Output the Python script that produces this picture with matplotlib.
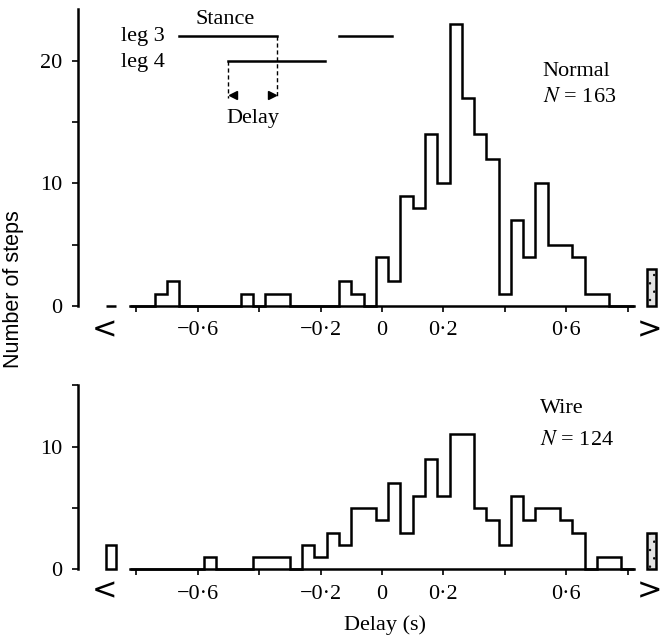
import matplotlib.pyplot as plt
import numpy as np

plt.rcParams['font.family'] = ['Liberation Serif', 'DejaVu Sans']
plt.rcParams['mathtext.fontset'] = 'stix'
plt.rcParams['hatch.color'] = '#9a9a9a'
plt.rcParams['hatch.linewidth'] = 0.5

# 0.04 s bins centred on -0.80 ... 0.80
bin_edges = np.linspace(-0.82, 0.82, 42)

normal_counts = [0, 0, 1, 2, 0, 0, 0, 0, 0, 1, 0, 1, 1, 0, 0, 0, 0, 2, 1, 0,
                 4, 2, 9, 8, 14, 10, 23, 17, 14, 12, 1, 7, 4, 10, 5, 5, 4, 1, 1, 0, 0]
wire_counts = [0, 0, 0, 0, 0, 0, 1, 0, 0, 0, 1, 1, 1, 0, 2, 1, 3, 2, 5, 5,
               4, 7, 3, 6, 9, 6, 11, 11, 5, 4, 2, 6, 4, 5, 5, 4, 3, 0, 1, 1, 0]

# steps outside the plotted range (< and >)
normal_under, normal_over = 0, 3
wire_under, wire_over = 2, 3

xticks = [-0.8, -0.6, -0.4, -0.2, 0, 0.2, 0.4, 0.6, 0.8]
xticklabels = ['', '\u22120\u00b76', '', '\u22120\u00b72', '0', '0\u00b72', '', '0\u00b76', '']

FS = 16
LW = 1.8


def style_axis(ax, ymax, yticks, yticklabels, label_y):
    ax.set_xlim(-0.99, 0.9)
    ax.set_ylim(0, ymax)
    ax.spines['top'].set_visible(False)
    ax.spines['right'].set_visible(False)
    ax.spines['left'].set_bounds(0, ymax)
    ax.spines['bottom'].set_bounds(bin_edges[0], bin_edges[-1])
    ax.spines['left'].set_linewidth(LW)
    ax.spines['bottom'].set_linewidth(LW)
    ax.set_xticks(xticks)
    ax.set_xticklabels(xticklabels)
    ax.set_yticks(yticks)
    ax.set_yticklabels(yticklabels)
    ax.tick_params(direction='out', length=4, width=1.2, labelsize=FS, pad=7)
    # under / over category labels
    tr = ax.get_xaxis_transform()
    ax.text(-0.945, label_y, '<', transform=tr, ha='left', va='center',
            fontsize=22, family='DejaVu Sans')
    ax.text(0.912, label_y, '>', transform=tr, ha='right', va='center',
            fontsize=22, family='DejaVu Sans')


def draw_hist(ax, counts, under, over):
    ax.stairs(counts, bin_edges, color='black', linewidth=LW, clip_on=False)
    ax.bar(-0.882, under, width=0.032, facecolor='white', edgecolor='black',
           linewidth=LW, clip_on=False)
    ax.bar(0.878, over, width=0.03, facecolor='#e4e4e4', edgecolor='black',
           hatch='..', linewidth=LW, clip_on=False)


fig = plt.figure(figsize=(6.64, 6.39), dpi=100)
ax1 = fig.add_axes([78 / 664, 1 - 306 / 639, 580.3 / 664, 296.7 / 639])
ax2 = fig.add_axes([78 / 664, 1 - 569.3 / 639, 580.3 / 664, 184 / 639])

# top panel: normal
draw_hist(ax1, normal_counts, normal_under, normal_over)
style_axis(ax1, 24.2, [0, 5, 10, 15, 20], ['0', '', '10', '', '20'], -24 / 296.7)
ax1.text(0.524, 19.1, 'Normal', fontsize=FS, va='center')
ax1.text(0.524, 17.0, r'$N$ = 163', fontsize=FS, va='center')

# schematic of leg 3 / leg 4 stance and delay
ax1.plot([-0.661, -0.342], [22, 22], color='black', lw=LW)
ax1.plot([-0.14, 0.033], [22, 22], color='black', lw=LW)
ax1.plot([-0.502, -0.186], [20, 20], color='black', lw=LW)
ax1.plot([-0.342, -0.342], [22, 17.0], color='black', lw=1.0, ls=(0, (3, 2)))
ax1.plot([-0.502, -0.502], [20, 17.0], color='black', lw=1.0, ls=(0, (3, 2)))
ax1.plot([-0.486], [17.2], marker='<', color='black', ms=6)
ax1.plot([-0.358], [17.2], marker='>', color='black', ms=6)
ax1.text(-0.51, 23.4, 'Stance', fontsize=FS, ha='center', va='center')
ax1.text(-0.707, 22, 'leg 3', fontsize=FS, ha='right', va='center')
ax1.text(-0.707, 19.9, 'leg 4', fontsize=FS, ha='right', va='center')
ax1.text(-0.42, 15.3, 'Delay', fontsize=FS, ha='center', va='center')

# bottom panel: wire
draw_hist(ax2, wire_counts, wire_under, wire_over)
style_axis(ax2, 15, [0, 5, 10, 15], ['0', '', '10', ''], -22 / 184)
ax2.text(0.515, 13.1, 'Wire', fontsize=FS, va='center')
ax2.text(0.515, 10.5, r'$N$ = 124', fontsize=FS, va='center')

fig.text(385 / 664, 1 - 625 / 639, 'Delay (s)', fontsize=FS, ha='center', va='center')
fig.text(14 / 664, 1 - 289 / 639, 'Number of steps', fontsize=15.5, rotation=90,
         ha='center', va='center', family='Liberation Sans')

fig.savefig('out.png', dpi=100)
